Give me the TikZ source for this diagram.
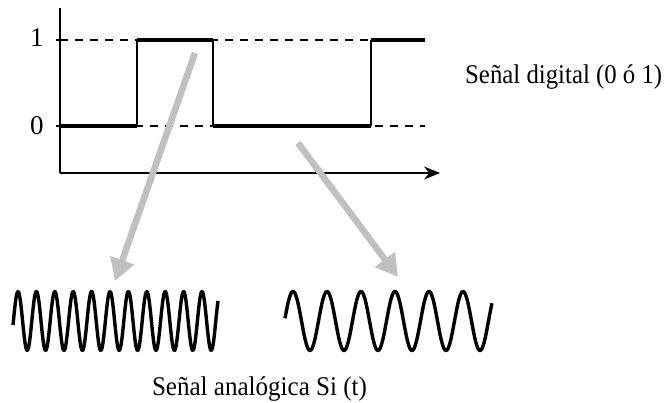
\documentclass[tikz,border=0pt]{standalone}
\usepackage{fontspec}
\setmainfont{Liberation Serif}
\usetikzlibrary{arrows.meta}
\begin{document}
\begin{tikzpicture}[x=1pt,y=-1pt,
  axis/.style={line width=1.8pt},
  lvl/.style={line width=3.4pt},
  edge/.style={line width=1.8pt},
  dashlevel/.style={line width=1.4pt, dash pattern=on 8pt off 7pt},
  grayarrow/.style={line width=6.5pt, draw={rgb,255:red,192;green,192;blue,192}, -{Triangle[length=22pt,width=24pt]}},
  wave/.style={line width=3.4pt, line join=round},
  lab/.style={font=\fontsize{27}{30}\selectfont, inner sep=0pt},
  digit/.style={font=\fontsize{27}{30}\selectfont, inner sep=0pt}]
\useasboundingbox (0,0) rectangle (664,403);
% axes
\coordinate (ytop) at (60,8);
\coordinate (orig) at (60,173);
\coordinate (xend) at (440,173);
\draw[axis] (ytop) -- (orig);
\draw[axis, -{Stealth[length=16pt,width=13pt]}] (orig) -- (xend);
% ticks and labels
\coordinate (t1) at (60,40);
\coordinate (t0) at (60,126);
\draw[axis] (56,40) -- (t1);
\draw[axis] (56,126) -- (t0);
\node[digit, anchor=base] (one) at (37,47) {1};
\node[digit, anchor=base] (zero) at (37,135) {0};
% dashed levels
\coordinate (d1) at (425,40);
\coordinate (d0) at (425,126);
\draw[dashlevel] (t1) -- (d1);
\draw[dashlevel] (t0) -- (d0);
% digital signal
\draw[lvl] (60,126) -- (137,126);
\draw[edge] (137,126) -- (137,40);
\draw[lvl] (137,40) -- (213,40);
\draw[edge] (213,40) -- (213,126);
\draw[lvl] (213,126) -- (371,126);
\draw[edge] (371,126) -- (371,40);
\draw[lvl] (371,40) -- (425,40);
% text
\node[lab, anchor=base west] (dig) at (465,84) {\resizebox{197pt}{\height}{Señal digital (0 ó 1)}};
% gray arrows
\coordinate (a1s) at (195,53);
\coordinate (a1e) at (115,281);
\coordinate (a2s) at (298,143);
\coordinate (a2e) at (398,277);
\draw[grayarrow] (a1s) -- (a1e);
\draw[grayarrow] (a2s) -- (a2e);
% waves
\draw[wave] plot[domain=13:218, samples=400] (\x, {321 - 29.5*sin((\x-13.4)/18.4*360)});
\draw[wave] plot[domain=285:492, samples=400] (\x, {321 - 29.5*sin((\x-284.5)/34*360)});
\node[lab, anchor=base] (ana) at (259.5,395) {\resizebox{215pt}{\height}{Señal analógica Si (t)}};
\end{tikzpicture}
\end{document}
